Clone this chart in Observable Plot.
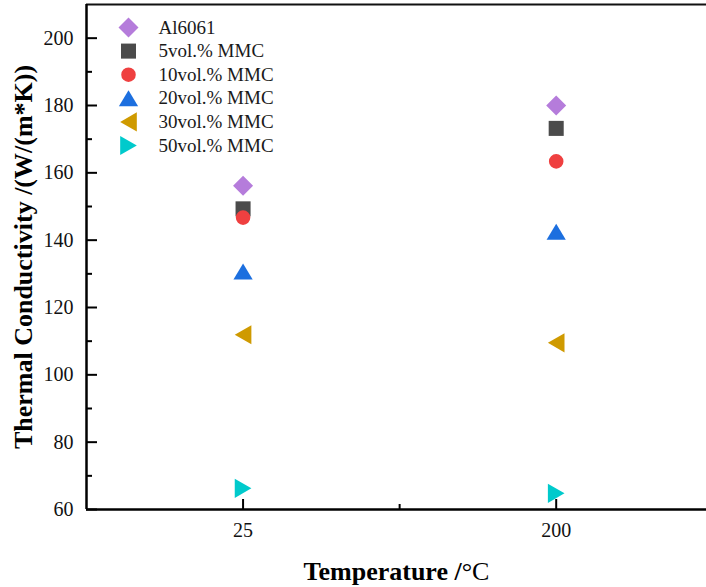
<!DOCTYPE html>
<html>
<head>
<meta charset="utf-8">
<script src="https://cdn.jsdelivr.net/npm/d3@7"></script>
<script src="https://cdn.jsdelivr.net/npm/@observablehq/plot@0.6"></script>
<style>
  html, body { margin: 0; padding: 0; background: #fff; }
  #chart { width: 706px; height: 587px; overflow: hidden; }
</style>
</head>
<body>
<div id="chart"></div>
<script>
// ---- data ----
const temperatures = ["25", "200"];          // categories (x positions 1, 2)
const seriesNames = ["Al6061", "5vol.% MMC", "10vol.% MMC", "20vol.% MMC", "30vol.% MMC", "50vol.% MMC"];
const al6061  = [156.2, 180.0];
const mmc5    = [149.3, 173.2];
const mmc10   = [146.7, 163.4];
const mmc20   = [130.7, 142.5];
const mmc30   = [111.9, 109.5];
const mmc50   = [66.3, 64.8];
const yMajorTicks = [60, 80, 100, 120, 140, 160, 180, 200];
const yMinorTicks = [70, 90, 110, 130, 150, 170, 190];
const xMajorTicks = [1, 2];
const xMinorTicks = [1.5];
const xDomain = [0.5, 2.48];
const yDomain = [60, 210];
const yTitle = "Thermal Conductivity /(W/(m*K))";
const xTitle = "Temperature /°C";

// ---- symbols ----
const poly = pts => ({
  draw(ctx, size) {
    const s = Math.sqrt(size / Math.PI);
    ctx.moveTo(pts[0][0] * s, pts[0][1] * s);
    for (let i = 1; i < pts.length; i++) ctx.lineTo(pts[i][0] * s, pts[i][1] * s);
    ctx.closePath();
  }
});
const symDiamond = poly([[0, -1.25], [1.25, 0], [0, 1.25], [-1.25, 0]]);
const symSquare = poly([[-0.94, -0.94], [0.94, -0.94], [0.94, 0.94], [-0.94, 0.94]]);
const symCircle = { draw(ctx, size) { const s = Math.sqrt(size / Math.PI) * 0.91; ctx.moveTo(s, 0); ctx.arc(0, 0, s, 0, 2 * Math.PI); ctx.closePath(); } };
const symUp = poly([[0, -1], [1.2, 1], [-1.2, 1]]);
const symLeft = poly([[-1.04, 0], [1.04, -1.2], [1.04, 1.2]]);
const symRight = poly([[1.04, 0], [-1.04, -1.2], [-1.04, 1.2]]);

const seriesValues = [al6061, mmc5, mmc10, mmc20, mmc30, mmc50];
const seriesSymbols = [symDiamond, symSquare, symCircle, symUp, symLeft, symRight];
const seriesColors = ["#B57CDB", "#4B4B4B", "#EF4040", "#1C6FDF", "#CF9A00", "#00CACC"];

const width = 706, height = 587;
const margin = { top: 4, right: 0, bottom: 78, left: 86 };
const plotW = width - margin.left - margin.right;
const plotH = height - margin.top - margin.bottom;
const serif = "'Liberation Serif', 'Times New Roman', Times, serif";

const marks = [];
// axis lines
marks.push(Plot.ruleY([yDomain[1]], { stroke: "#111", strokeWidth: 2 }));
marks.push(Plot.ruleX([xDomain[0]], { stroke: "#000", strokeWidth: 2.5 }));
marks.push(Plot.ruleY([yDomain[0]], { stroke: "#000", strokeWidth: 2.5 }));
// inward ticks
marks.push(Plot.tickY(yMajorTicks, { y: d => d, insetRight: plotW - 11, stroke: "#000", strokeWidth: 2 }));
marks.push(Plot.tickY(yMinorTicks, { y: d => d, insetRight: plotW - 6, stroke: "#000", strokeWidth: 2 }));
marks.push(Plot.tickX(xMajorTicks, { x: d => d, insetTop: plotH - 10, stroke: "#000", strokeWidth: 2 }));
marks.push(Plot.tickX(xMinorTicks, { x: d => d, insetTop: plotH - 5, stroke: "#000", strokeWidth: 2 }));
// tick labels
marks.push(Plot.axisY(yMajorTicks, { tickSize: 0, tickPadding: 13, fontSize: 20, label: null, fill: "#111" }));
marks.push(Plot.axisX(xMajorTicks, { tickSize: 0, tickPadding: 13, fontSize: 20, label: null, fill: "#111", tickFormat: d => temperatures[d - 1] }));
// titles
marks.push(Plot.text([yTitle], { text: d => d, frameAnchor: "left", dx: -63, rotate: -90, textAnchor: "middle", lineAnchor: "middle", fontSize: 26, fontWeight: "bold", fill: "#000" }));
marks.push(Plot.text([xTitle], { text: d => d, frameAnchor: "bottom", dy: 62, textAnchor: "middle", lineAnchor: "middle", fontSize: 26, fontWeight: "bold", fill: "#000" }));

// data points
seriesNames.forEach((name, i) => {
  const rows = seriesValues[i].map((v, j) => ({ x: j + 1, y: v, series: name }));
  marks.push(Plot.dot(rows, { x: "x", y: "y", r: 8, symbol: seriesSymbols[i], fill: seriesColors[i], stroke: "none" }));
});
// legend (inside plot, top-left)
seriesNames.forEach((name, i) => {
  const dy = 23 + i * 23.6;
  marks.push(Plot.dot([name], { frameAnchor: "top-left", dx: 42, dy, r: 8, symbol: seriesSymbols[i], fill: seriesColors[i], stroke: "none" }));
  marks.push(Plot.text([name], { text: d => d, frameAnchor: "top-left", dx: 72, dy, textAnchor: "start", lineAnchor: "middle", fontSize: 19, fill: "#1a1a1a" }));
});

const chart = Plot.plot({
  width, height,
  marginTop: margin.top, marginRight: margin.right, marginBottom: margin.bottom, marginLeft: margin.left,
  x: { type: "linear", domain: xDomain, axis: null },
  y: { type: "linear", domain: yDomain, axis: null },
  style: { fontFamily: serif, background: "#fff", overflow: "visible" },
  marks
});
document.getElementById("chart").appendChild(chart);

// render "°C" in regular weight, as in the reference
chart.querySelectorAll("text").forEach(t => {
  if (t.textContent === xTitle) {
    t.textContent = "";
    const a = document.createElementNS("http://www.w3.org/2000/svg", "tspan");
    a.textContent = "Temperature /";
    const b = document.createElementNS("http://www.w3.org/2000/svg", "tspan");
    b.textContent = "°C";
    b.setAttribute("font-weight", "normal");
    t.appendChild(a); t.appendChild(b);
  }
});
</script>
</body>
</html>
